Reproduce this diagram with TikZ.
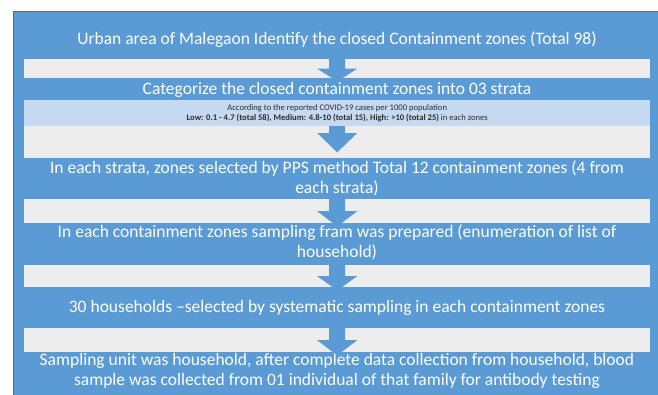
\documentclass[tikz,border=0pt]{standalone}
\usepackage{fontspec}
\setmainfont{Carlito}
\usetikzlibrary{calc}
\definecolor{flowblue}{RGB}{91,155,213}
\definecolor{bargray}{RGB}{237,237,237}
\definecolor{notelight}{RGB}{197,217,240}
\definecolor{frameline}{RGB}{105,105,105}
\definecolor{notetext}{RGB}{45,45,45}

\tikzset{
  steptext/.style={text=white, align=center, inner sep=0pt,
    font=\fontsize{17.5}{20.5}\selectfont},
  bar/.style={fill=bargray, minimum width=626, inner sep=0pt, anchor=north west},
  flowarrow/.style={fill=flowblue}
}

\begin{document}
\begin{tikzpicture}[x=1pt,y=-1pt]
    \clip (0,0) rectangle (658,394);
    % Background panel
    \draw[frameline, fill=flowblue, line width=0.8pt] (13,11) rectangle (675,410);

    % Step 1
    \node[steptext] (urban) at (337,40) {Urban area of Malegaon Identify the closed Containment zones (Total 98)};
    \node[bar, minimum height=19] (bar1) at (24,59) {};

    % Step 2 with note
    \node[steptext] (categorize) at (337,90) {Categorize the closed containment zones into 03 strata};
    \node[bar, fill=notelight, minimum height=26, text=notetext, align=center,
      font=\fontsize{8.6}{10}\selectfont] (strata) at (24,100)
      {According to the reported COVID-19 cases per 1000 population\\
       \textbf{Low: 0.1 - 4.7 (total 58), Medium: 4.8-10 (total 15), High: >10 (total 25)} in each zones};
    \node[bar, minimum height=32] (bar2) at (24,126) {};

    % Step 3
    \node[steptext] (pps) at (337,178.5) {In each strata, zones selected by PPS method Total 12 containment zones (4 from\\each strata)};
    \node[bar, minimum height=24] (bar3) at (24,199) {};

    % Step 4
    \node[steptext] (frame) at (337,242.5) {In each containment zones sampling fram was prepared (enumeration of list of\\household)};
    \node[bar, minimum height=22] (bar4) at (24,265) {};

    % Step 5
    \node[steptext] (households) at (337,308) {30 households –selected by systematic sampling in each containment zones};
    \node[bar, minimum height=24] (bar5) at (24,328) {};

    % Step 6
    \node[steptext] (unit) at (337,371) {Sampling unit was household, after complete data collection from household, blood\\sample was collected from 01 individual of that family for antibody testing};

    % Down arrows
    \foreach \b in {bar1,bar3,bar4,bar5}
      \fill[flowarrow] ($(\b.north)+(-8,-2)$) -- ($(\b.north)+(8,-2)$) -- ($(\b.center)+(8,0)$)
        -- ($(\b.center)+(20,0)$) -- ($(\b.south)+(0,3)$) -- ($(\b.center)+(-20,0)$)
        -- ($(\b.center)+(-8,0)$) -- cycle;
    \fill[flowarrow] ($(bar2.north)+(-8,0)$) -- ($(bar2.north)+(8,0)$) -- ($(bar2.north)+(8,7)$)
      -- ($(bar2.north)+(20,7)$) -- ($(bar2.south)+(0,-6)$) -- ($(bar2.north)+(-20,7)$)
      -- ($(bar2.north)+(-8,7)$) -- cycle;
\end{tikzpicture}
\end{document}
